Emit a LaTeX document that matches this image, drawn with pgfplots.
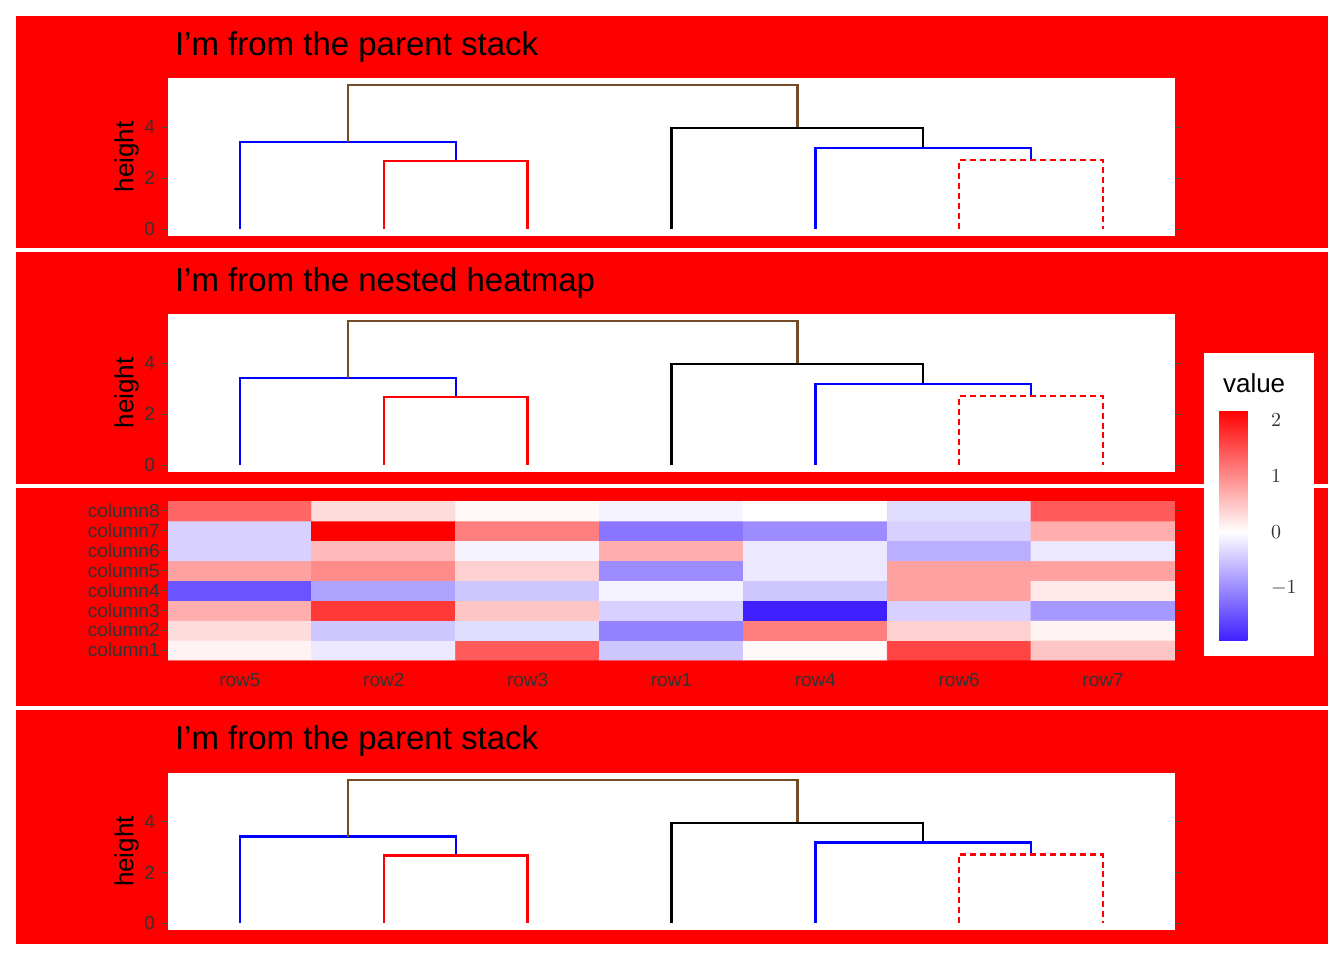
\documentclass[border=0pt]{standalone}
\usepackage{pgfplots}
\pgfplotsset{compat=1.18}
\usepackage{fontspec}
\setmainfont{Liberation Sans}
\definecolor{pred}{RGB}{255,0,0}
\pgfplotsset{
  common/.style={scale only axis, width=503.5bp, tick align=outside,
    major tick length=3bp, tick style={black!70,line width=0.5pt},
    axis line style={draw=none},
    tick label style={font=\fontsize{9.5bp}{10bp}\selectfont, text=black!80},
    /pgf/number format/assume math mode=true},
  dendro/.style={common, height=79bp, xmin=0.5, xmax=7.5, ymin=-0.27, ymax=5.92,
    xtick=\empty, ytick={0,2,4}, axis background/.style={fill=white},
    ylabel={height}, ylabel style={font=\fontsize{13bp}{14bp}\selectfont, yshift=-4bp},
    every axis plot/.append style={black, line width=1.2pt, no markers}},
}
\newcommand\dendro{
\addplot coordinates {(1,0)(1,3.41)(2.5,3.41)(2.5,2.67)};
\addplot coordinates {(2,0)(2,2.67)(3,2.67)(3,0)};
\addplot coordinates {(1.75,3.41)(1.75,5.65)(4.875,5.65)(4.875,3.96)};
\addplot coordinates {(4,0)(4,3.96)(5.75,3.96)(5.75,3.18)};
\addplot coordinates {(5,0)(5,3.18)(6.5,3.18)(6.5,2.7)};
\addplot coordinates {(6,0)(6,2.7)(7,2.7)(7,0)};
}
\pgfplotstableread{
x y c
1 1 0.1
2 1 -0.2
3 1 1.4
4 1 -0.5
5 1 0.05
6 1 1.6
7 1 0.5
1 2 0.3
2 2 -0.5
3 2 -0.3
4 2 -1.1
5 2 1.1
6 2 0.4
7 2 0.1
1 3 0.7
2 3 1.7
3 3 0.5
4 3 -0.4
5 3 -1.94
6 3 -0.4
7 3 -0.9
1 4 -1.5
2 4 -0.8
3 4 -0.5
4 4 -0.1
5 4 -0.5
6 4 0.8
7 4 0.2
1 5 0.8
2 5 1.0
3 5 0.4
4 5 -1.0
5 5 -0.2
6 5 0.8
7 5 0.8
1 6 -0.4
2 6 0.6
3 6 -0.1
4 6 0.7
5 6 -0.2
6 6 -0.7
7 6 -0.2
1 7 -0.4
2 7 2.18
3 7 1.1
4 7 -1.2
5 7 -1.0
6 7 -0.4
7 7 0.7
1 8 1.3
2 8 0.3
3 8 0.05
4 8 -0.1
5 8 0.0
6 8 -0.3
7 8 1.4
}\heat
\begin{document}
\begin{tikzpicture}
\fill[white] (0,0) rectangle (672bp,-480bp);
\fill[pred] (8bp,-8bp) rectangle (664bp,-124bp);
\fill[pred] (8bp,-126bp) rectangle (664bp,-242bp);
\fill[pred] (8bp,-244bp) rectangle (664bp,-353bp);
\fill[pred] (8bp,-355bp) rectangle (664bp,-472bp);
\fill[white] (602bp,-176.5bp) rectangle (657bp,-328bp);
\node[anchor=base west, font=\fontsize{16.5bp}{18bp}\selectfont] at (84bp,-27.5bp) {I'm from the parent stack};
\node[anchor=base west, font=\fontsize{16.5bp}{18bp}\selectfont] at (84bp,-145.5bp) {I'm from the nested heatmap};
\node[anchor=base west, font=\fontsize{16.5bp}{18bp}\selectfont] at (84bp,-374.5bp) {I'm from the parent stack};
\node[anchor=base west, font=\fontsize{13bp}{14bp}\selectfont] at (608bp,-196bp) {value};

\begin{axis}[dendro, at={(84bp,-118bp)}, anchor=south west]
\dendro
\end{axis}
\begin{axis}[dendro, at={(84bp,-236bp)}, anchor=south west]
\dendro
\end{axis}
\begin{axis}[dendro, at={(84bp,-465bp)}, anchor=south west, height=78.5bp]
\dendro
\end{axis}

\begin{axis}[common, height=79.5bp, at={(84bp,-330bp)}, anchor=south west,
  xmin=0.5, xmax=7.5, ymin=0.5, ymax=8.5,
  xtick={1,...,7}, xticklabels={row5,row2,row3,row1,row4,row6,row7},
  ytick={1,...,8}, yticklabels={column1,column2,column3,column4,column5,column6,column7,column8},
  yticklabel style={font=\fontsize{9.5bp}{9.5bp}\selectfont, inner sep=1bp},
  colormap={bwr}{rgb255(0cm)=(64,32,255) rgb255(1.94cm)=(255,255,255) rgb255(4.12cm)=(255,0,0)},
  point meta min=-1.94, point meta max=2.18,
  colorbar,
  colorbar style={at={(1.0437,1.572)}, anchor=north west, width=22.5bp, height=115bp,
    scale only axis, ytick={-1,0,1,2}, axis line style={draw=none},
    major tick length=0pt,
    tick label style={font=\fontsize{9.5bp}{10bp}\selectfont, text=black!80}},
]
\addplot[matrix plot*, mesh/cols=7, point meta=explicit] table[x=x,y=y,meta=c] {\heat};
\end{axis}
\end{tikzpicture}
\end{document}
